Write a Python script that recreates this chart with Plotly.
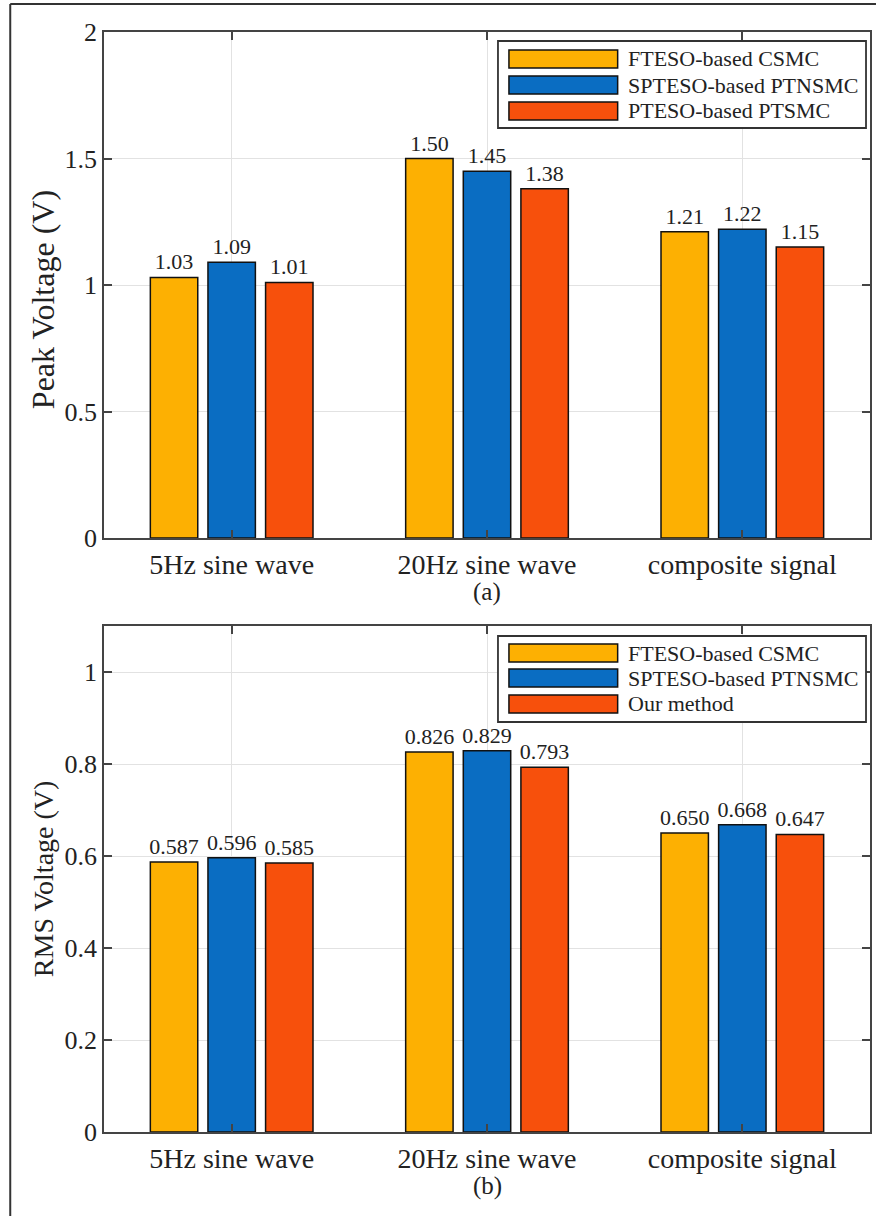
import plotly.graph_objects as go

# ---------------- data ----------------
categories = ["5Hz sine wave", "20Hz sine wave", "composite signal"]
series_a = ["FTESO-based CSMC", "SPTESO-based PTNSMC", "PTESO-based PTSMC"]
series_b = ["FTESO-based CSMC", "SPTESO-based PTNSMC", "Our method"]

peak_fteso = [1.03, 1.50, 1.21]
peak_spteso = [1.09, 1.45, 1.22]
peak_pteso = [1.01, 1.38, 1.15]

rms_fteso = [0.587, 0.826, 0.650]
rms_spteso = [0.596, 0.829, 0.668]
rms_ours = [0.585, 0.793, 0.647]

peak_ticks = [0, 0.5, 1, 1.5, 2]
rms_ticks = [0, 0.2, 0.4, 0.6, 0.8, 1]

colors = ["#FDB002", "#0A6DC2", "#F7500C"]
FONT = "Liberation Serif"

# ---------------- geometry helpers (pixel -> paper) ----------------
W, H = 878, 1216
ML, MR, MT, MB = 104, 6, 32, 84
PW = W - ML - MR
PH = H - MT - MB


def px(x):
    return (x - ML) / PW


def py(y):
    return (H - MB - y) / PH


fig = go.Figure()

for vals, name, col in zip([peak_fteso, peak_spteso, peak_pteso], series_a, colors):
    fig.add_trace(go.Bar(
        x=categories, y=vals, name=name, xaxis="x", yaxis="y",
        marker=dict(color=col, line=dict(color="#111111", width=1.5)),
        texttemplate="%{y:.2f}", textposition="outside",
        textfont=dict(family=FONT, size=22, color="#222222"),
        constraintext="none", cliponaxis=False, showlegend=False,
    ))

for vals, name, col in zip([rms_fteso, rms_spteso, rms_ours], series_b, colors):
    fig.add_trace(go.Bar(
        x=categories, y=vals, name=name, xaxis="x2", yaxis="y2",
        marker=dict(color=col, line=dict(color="#111111", width=1.5)),
        texttemplate="%{y:.3f}", textposition="outside",
        textfont=dict(family=FONT, size=22, color="#222222"),
        constraintext="none", cliponaxis=False, showlegend=False,
    ))

axis_common = dict(
    showline=True, linecolor="#444444", linewidth=1.8, mirror="ticks",
    ticks="inside", ticklen=8, tickwidth=1.5, tickcolor="#444444",
    showgrid=True, gridcolor="#e2e2e2", gridwidth=1,
    zeroline=False,
)
xfont = dict(family=FONT, size=28, color="#222222")
yfont = dict(family=FONT, size=26, color="#222222")

top_dom = [1 - 506 / PH, 1]
bot_dom = [0, 506 / PH]

fig.update_layout(
    width=W, height=H,
    margin=dict(l=ML, r=MR, t=MT, b=MB),
    paper_bgcolor="white", plot_bgcolor="white",
    barmode="group", bargap=0.323, bargroupgap=0.177,
    font=dict(family=FONT, color="#222222"),
    xaxis=dict(domain=[0, 1], anchor="y", tickfont=xfont, **axis_common),
    yaxis=dict(domain=top_dom, anchor="x", range=[0, 2], tickvals=peak_ticks,
               tickfont=yfont, **axis_common),
    xaxis2=dict(domain=[0, 1], anchor="y2", tickfont=xfont, **axis_common),
    yaxis2=dict(domain=bot_dom, anchor="x2", range=[0, 1.1], tickvals=rms_ticks,
                tickfont=yfont, **axis_common),
    showlegend=False,
)

shapes = []
annotations = []

# page border (left and top)
shapes.append(dict(type="line", xref="paper", yref="paper", x0=px(10), x1=px(10),
                   y0=py(4), y1=py(1216), line=dict(color="#333333", width=2)))
shapes.append(dict(type="line", xref="paper", yref="paper", x0=px(10), x1=px(878),
                   y0=py(4), y1=py(4), line=dict(color="#333333", width=2)))

# axis titles and sub-captions
annotations.append(dict(text="Peak Voltage (V)", xref="paper", yref="paper",
                        x=px(43), y=py(300), textangle=-90, showarrow=False,
                        xanchor="center", yanchor="middle",
                        font=dict(family=FONT, size=32, color="#222222")))
annotations.append(dict(text="RMS Voltage (V)", xref="paper", yref="paper",
                        x=px(43), y=py(879), textangle=-90, showarrow=False,
                        xanchor="center", yanchor="middle",
                        font=dict(family=FONT, size=28, color="#222222")))
annotations.append(dict(text="(a)", xref="paper", yref="paper", x=px(488), y=py(592),
                        showarrow=False, xanchor="center", yanchor="middle",
                        font=dict(family=FONT, size=25, color="#222222")))
annotations.append(dict(text="(b)", xref="paper", yref="paper", x=px(488), y=py(1186),
                        showarrow=False, xanchor="center", yanchor="middle",
                        font=dict(family=FONT, size=25, color="#222222")))


def add_legend(names, box_top, box_bottom, rows):
    shapes.append(dict(type="rect", xref="paper", yref="paper",
                       x0=px(499), x1=px(868), y0=py(box_bottom), y1=py(box_top),
                       fillcolor="white", line=dict(color="#333333", width=1.8), layer="above"))
    for name, col, yc in zip(names, colors, rows):
        shapes.append(dict(type="rect", xref="paper", yref="paper",
                           x0=px(510), x1=px(619), y0=py(yc + 9), y1=py(yc - 9),
                           fillcolor=col, line=dict(color="#111111", width=1.5), layer="above"))
        annotations.append(dict(text=name, xref="paper", yref="paper",
                                x=px(627), y=py(yc), showarrow=False,
                                xanchor="left", yanchor="middle",
                                font=dict(family=FONT, size=22, color="#222222")))


add_legend(series_a, 41, 128, [59, 85, 111])
add_legend(series_b, 636, 722, [653, 678, 704])

fig.update_layout(shapes=shapes, annotations=annotations)

fig.write_html("out.html")
